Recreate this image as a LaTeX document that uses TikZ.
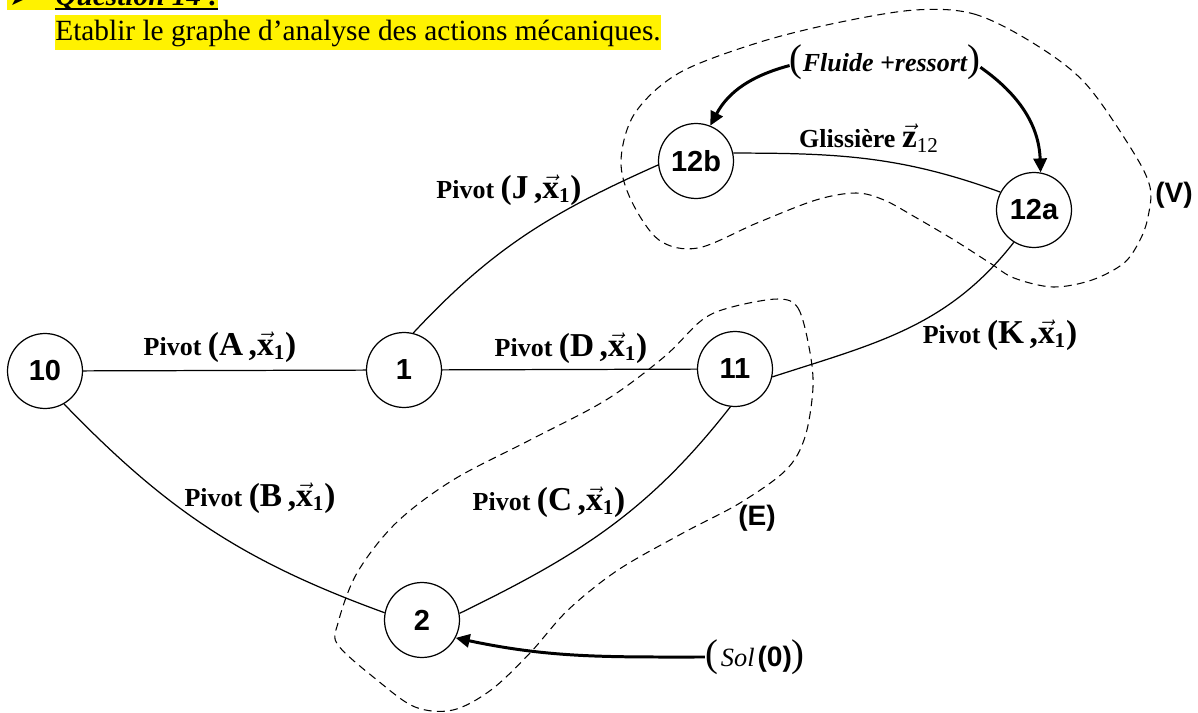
\documentclass[tikz,border=0pt]{standalone}
\usepackage{fontspec}
\setmainfont{Liberation Serif}
\setsansfont{Liberation Sans}
\newfontfamily\dejavu{DejaVu Sans}
\usetikzlibrary{shapes.geometric,arrows.meta}
\newcommand{\vx}{$\vec{\mbox{\textbf{x}}}_{\mbox{\fontsize{12}{12}\selectfont\textbf{1}}}$}
\newcommand{\piv}[1]{\textbf{Pivot}\ {\fontsize{19}{21}\selectfont\textbf{(#1\,,}\vx\textbf{)}}}
\tikzset{
  part/.style={circle, draw, line width=0.7pt, minimum size=1.5cm, inner sep=0pt, font=\sffamily\bfseries\fontsize{16.5}{16.5}\selectfont},
  link/.style={line width=0.7pt},
  act/.style={line width=1.7pt, -{Triangle[length=8pt,width=7.5pt]}},
  zone/.style={line width=0.6pt, dash pattern=on 4.5pt off 3pt},
  lab/.style={font=\fontsize{14.8}{17}\selectfont, inner sep=0pt},
  zlab/.style={font=\sffamily\bfseries\fontsize{16}{16}\selectfont, inner sep=0pt},
  hl/.style={fill=yellow, draw=none}
}
\begin{document}
\begin{tikzpicture}[x=0.02cm, y=-0.02cm]
\useasboundingbox (0,0) rectangle (1198,713);
\clip (0,0) rectangle (1198,713);
% header
\fill[hl] (7,-5) rectangle (218,10);
\fill[hl] (55,15) rectangle (661,50);
\node[anchor=base west, inner sep=0pt, font=\dejavu\fontsize{14}{14}\selectfont] (bul) at (9,6) {➤};
\node[anchor=base west, inner sep=0pt, font=\bfseries\itshape\fontsize{16.7}{18}\selectfont] (q) at (55,6) {Question 14 :};
\fill (55,7.8) rectangle (218,10);
\node[anchor=base west, inner sep=0pt, font=\fontsize{16.7}{19}\selectfont] (t) at (55,41) {Etablir le graphe d’analyse des actions mécaniques.};
% zones
\draw[zone] plot[smooth cycle, tension=0.55] coordinates {(915,10) (974,14) (1033,43) (1085,83) (1132,150) (1150,187) (1148,217) (1140,240) (1124,263) (1092,280) (1053,287) (1014,278) (990,263) (954,240) (915,217) (884,200) (856,193) (816,200) (757,223) (698,248) (659,240) (631,200) (621,160) (635,113) (679,73) (757,43) (836,23)};
\draw[zone] plot[smooth cycle, tension=0.55] coordinates {(778,299) (798,308) (809,347) (813,387) (805,437) (786,470) (740,503) (683,533) (618,570) (568,610) (530,653) (491,690) (453,710) (415,707) (377,680) (338,645) (338,623) (357,573) (396,523) (453,480) (530,440) (606,400) (664,357) (702,320) (732,307)};
% parts
\node[part] (n10) at (45,371) {10};
\node[part] (n1) at (404,370) {1};
\node[part] (n11) at (735,369) {11};
\node[part] (n2) at (422,620) {2};
\node[part] (n12b) at (696,161) {12b};
\node[part] (n12a) at (1034,210) {12a};
% links
\draw[link] (n10) -- (n1);
\draw[link] (n1) -- (n11);
\draw[link] (n10.-60) to[out=-46, in=160] (n2.169);
\draw[link] (n11.-97) to[out=-128, in=26] (n2.10);
\draw[link] (n1.76) to[out=47, in=204] (n12b.186);
\draw[link] (n12b.12) to[out=0, in=160] (n12a.152);
\draw[link] (n11.-12) to[out=18, in=232] (n12a.238);
% labels
\node[lab] (la) at (220,347) {\piv{A}};
\node[lab] (ld) at (571,348) {\piv{D}};
\node[lab] (lb) at (260,498) {\piv{B}};
\node[lab] (lc) at (549,502) {\piv{C}};
\node[lab] (lj) at (509,190) {\piv{J}};
\node[lab] (lk) at (1000,335) {\piv{K}};
\node[lab] (lg) at (869,138) {\textbf{Glissière}\ {\fontsize{19}{21}\selectfont$\vec{\mbox{\textbf{z}}}_{\mbox{\fontsize{12}{12}\selectfont 12}}$}};
% external actions
\node[inner sep=0pt] (fl) at (885,62) {{\fontsize{22}{22}\selectfont(}{\bfseries\itshape\fontsize{14.8}{17}\selectfont Fluide +ressort}{\fontsize{22}{22}\selectfont)}};
\node[inner sep=0pt] (sol) at (755,657) {{\fontsize{22}{22}\selectfont(}\,{\itshape\fontsize{15}{17}\selectfont Sol}\,{\sffamily\bfseries\fontsize{16}{16}\selectfont(0)}{\fontsize{22}{22}\selectfont)}};
\draw[act] ([yshift=-2pt]fl.west) to[out=195, in=62] (n12b.68);
\draw[act] ([yshift=-3pt]fl.east) to[out=-35, in=92] (n12a.80);
\draw[act] (sol.west) to[out=180, in=-12] (n2.-28);
% zone labels
\node[zlab] (lv) at (1174,195) {(V)};
\node[zlab] (le) at (757,518) {(E)};
\end{tikzpicture}
\end{document}
